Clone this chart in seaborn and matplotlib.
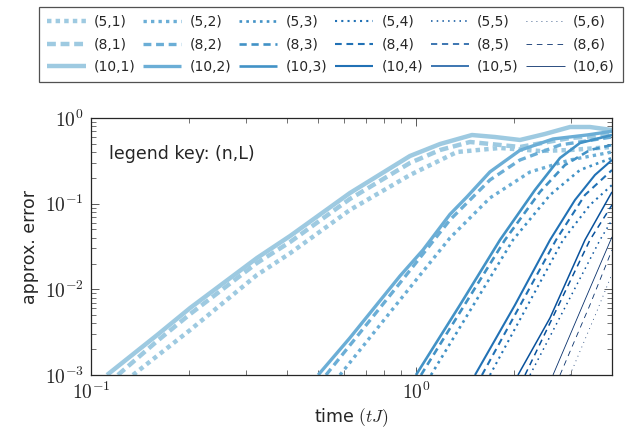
import numpy as np
import pandas as pd
import matplotlib
matplotlib.use("Agg")
import matplotlib.pyplot as plt
import matplotlib.ticker as mticker
import seaborn as sns

# values: time (tJ) and approx. error for each (n, L)
t_5_1 = [0.1346, 0.202, 0.324, 0.410, 0.626, 0.958, 1.337, 1.813, 2.41, 2.98, 4.01]
err_5_1 = [1e-3, 3.36e-3, 0.0147, 0.0264, 0.0844, 0.216, 0.401, 0.447, 0.412, 0.423, 0.459]
t_8_1 = [0.121, 0.160, 0.202, 0.324, 0.410, 0.626, 0.958, 1.186, 1.466, 2.09, 2.98, 4.01]
err_8_1 = [1e-3, 2.5e-3, 5.16e-3, 0.0203, 0.0357, 0.1135, 0.2985, 0.423, 0.525, 0.459, 0.585, 0.633]
t_10_1 = [0.112, 0.160, 0.202, 0.324, 0.410, 0.626, 0.958, 1.186, 1.487, 1.75, 2.09, 2.49, 2.98, 3.43, 4.01]
err_10_1 = [1e-3, 2.94e-3, 6.07e-3, 0.0232, 0.042, 0.133, 0.36, 0.497, 0.633, 0.60, 0.554, 0.65, 0.785, 0.785, 0.724]

t_5_2 = [0.5835, 0.893, 1.272, 1.689, 2.243, 2.978, 4.01]
err_5_2 = [1e-3, 7.52e-3, 0.0398, 0.1167, 0.2344, 0.3236, 0.4011]
t_8_2 = [0.5285, 0.893, 1.272, 1.689, 2.089, 2.774, 4.01]
err_8_2 = [1e-3, 0.01188, 0.0646, 0.1892, 0.3236, 0.4842, 0.60]
t_10_2 = [0.50, 0.626, 0.893, 1.051, 1.272, 1.435, 1.689, 2.089, 2.64, 3.36, 4.01]
err_10_2 = [1e-3, 2.71e-3, 0.01433, 0.0288, 0.075, 0.12, 0.235, 0.42, 0.569, 0.6337, 0.70]

t_5_3 = [1.112, 1.988, 2.585, 3.196, 4.01]
err_5_3 = [1e-3, 0.0377, 0.1263, 0.2472, 0.3415]
t_8_3 = [1.036, 1.878, 2.407, 2.874, 3.43, 4.01]
err_8_3 = [1e-3, 0.0377, 0.1371, 0.2828, 0.423, 0.4842]
t_10_3 = [1.0, 1.366, 1.813, 2.323, 2.774, 3.196, 4.01]
err_10_3 = [1e-3, 6.58e-3, 0.0377, 0.1445, 0.3415, 0.511, 0.6337]

t_5_4 = [1.689, 2.834, 3.43, 4.01]
err_5_4 = [1e-3, 0.0377, 0.0966, 0.1652]
t_8_4 = [1.596, 2.697, 3.311, 4.01]
err_8_4 = [1e-3, 0.0377, 0.1263, 0.2472]
t_10_4 = [1.519, 2.017, 2.585, 3.085, 3.554, 4.01]
err_10_4 = [1e-3, 6.58e-3, 0.0377, 0.1105, 0.2163, 0.3236]

t_5_5 = [2.243, 3.683, 4.01]
err_5_5 = [1e-3, 0.0377, 0.0646]
t_8_5 = [2.165, 3.43, 4.01]
err_8_5 = [1e-3, 0.0377, 0.0966]
t_10_5 = [2.06, 2.585, 3.311, 4.01]
err_10_5 = [1e-3, 4.64e-3, 0.0377, 0.1371]

t_5_6 = [2.978, 3.554, 4.01]
err_5_6 = [1e-3, 4.9e-3, 0.0151]
t_8_6 = [2.774, 3.43, 4.01]
err_8_6 = [1e-3, 6.58e-3, 0.0288]
t_10_6 = [2.64, 3.311, 4.01]
err_10_6 = [1e-3, 7.52e-3, 0.0409]

n_values = [5, 8, 10]
L_values = [1, 2, 3, 4, 5, 6]

series = {
    (5, 1): (t_5_1, err_5_1), (8, 1): (t_8_1, err_8_1), (10, 1): (t_10_1, err_10_1),
    (5, 2): (t_5_2, err_5_2), (8, 2): (t_8_2, err_8_2), (10, 2): (t_10_2, err_10_2),
    (5, 3): (t_5_3, err_5_3), (8, 3): (t_8_3, err_8_3), (10, 3): (t_10_3, err_10_3),
    (5, 4): (t_5_4, err_5_4), (8, 4): (t_8_4, err_8_4), (10, 4): (t_10_4, err_10_4),
    (5, 5): (t_5_5, err_5_5), (8, 5): (t_8_5, err_8_5), (10, 5): (t_10_5, err_10_5),
    (5, 6): (t_5_6, err_5_6), (8, 6): (t_8_6, err_8_6), (10, 6): (t_10_6, err_10_6),
}

# long-form table
rows = []
for (n, L), (tt, ee) in series.items():
    for t, e in zip(tt, ee):
        rows.append({"n": n, "L": L, "time": t, "err": e})
df = pd.DataFrame(rows)

sns.set_style("ticks")
plt.rcParams["font.family"] = ["DejaVu Sans"]
plt.rcParams["mathtext.fontset"] = "cm"
plt.rcParams["lines.scale_dashes"] = False

colors = {1: "#9ecae1", 2: "#6baed6", 3: "#4292c6", 4: "#2171b5", 5: "#08519c", 6: "#08306b"}
widths = {1: 3.2, 2: 2.4, 3: 1.9, 4: 1.5, 5: 1.1, 6: 0.6}

fig = plt.figure(figsize=(6.28, 4.32), dpi=100)
ax = fig.add_axes([91 / 628, 1 - 375 / 432, (612 - 91) / 628, (375 - 118) / 432])

handles = []
for L in L_values:
    for n in n_values:
        sub = df[(df["n"] == n) & (df["L"] == L)]
        lw = widths[L]
        sns.lineplot(data=sub, x="time", y="err", ax=ax, color=colors[L], lw=lw,
                     sort=False, estimator=None, label=f"({n},{L})")
        line = ax.get_lines()[-1]
        line.set_solid_capstyle("butt")
        line.set_dash_capstyle("butt")
        line.set_solid_joinstyle("round")
        if n == 5:
            line.set_dashes([lw, 3.0])
        elif n == 8:
            line.set_dashes([3.5 + 0.9 * lw, 3.4])
        handles.append(line)

ax.get_legend().remove()

ax.set_xscale("log")
ax.set_yscale("log")
ax.set_xlim(0.1, 4.01)
ax.set_ylim(1e-3, 1)

fmt = mticker.FuncFormatter(lambda v, p: r"$10^{%d}$" % round(np.log10(v)))
ax.xaxis.set_major_locator(mticker.LogLocator(base=10))
ax.yaxis.set_major_locator(mticker.LogLocator(base=10))
ax.xaxis.set_major_formatter(fmt)
ax.yaxis.set_major_formatter(fmt)
ax.xaxis.set_minor_locator(mticker.LogLocator(base=10, subs=np.arange(2, 10)))
ax.yaxis.set_minor_locator(mticker.LogLocator(base=10, subs=np.arange(2, 10)))
ax.xaxis.set_minor_formatter(mticker.NullFormatter())
ax.yaxis.set_minor_formatter(mticker.NullFormatter())

ax.tick_params(which="both", direction="in", top=True, right=True, labelsize=14, color="0.35")
ax.tick_params(which="major", length=6, width=0.7, pad=5)
ax.tick_params(which="minor", length=3.5, width=0.6)
for s in ax.spines.values():
    s.set_linewidth(0.9)
    s.set_color("0.15")

ax.set_xlabel(r"time $(tJ)$", fontsize=12.5, labelpad=2)
ax.set_ylabel("approx. error", fontsize=12.5, labelpad=4)

ax.text(0.035, 0.86, "legend key: (n,L)", transform=ax.transAxes, fontsize=12.5,
        ha="left", va="center")

leg = fig.legend(handles=handles, labels=[h.get_label() for h in handles], ncol=6,
                 loc="upper left", bbox_to_anchor=(39 / 628, 1 - 7 / 432),
                 fontsize=10, frameon=True, fancybox=False, edgecolor="0.15",
                 handlelength=2.75, handletextpad=0.6, columnspacing=0.55,
                 labelspacing=0.6, borderpad=0.6, borderaxespad=0)
leg.get_frame().set_linewidth(0.9)

plt.savefig("out.png", dpi=100)
plt.close()
